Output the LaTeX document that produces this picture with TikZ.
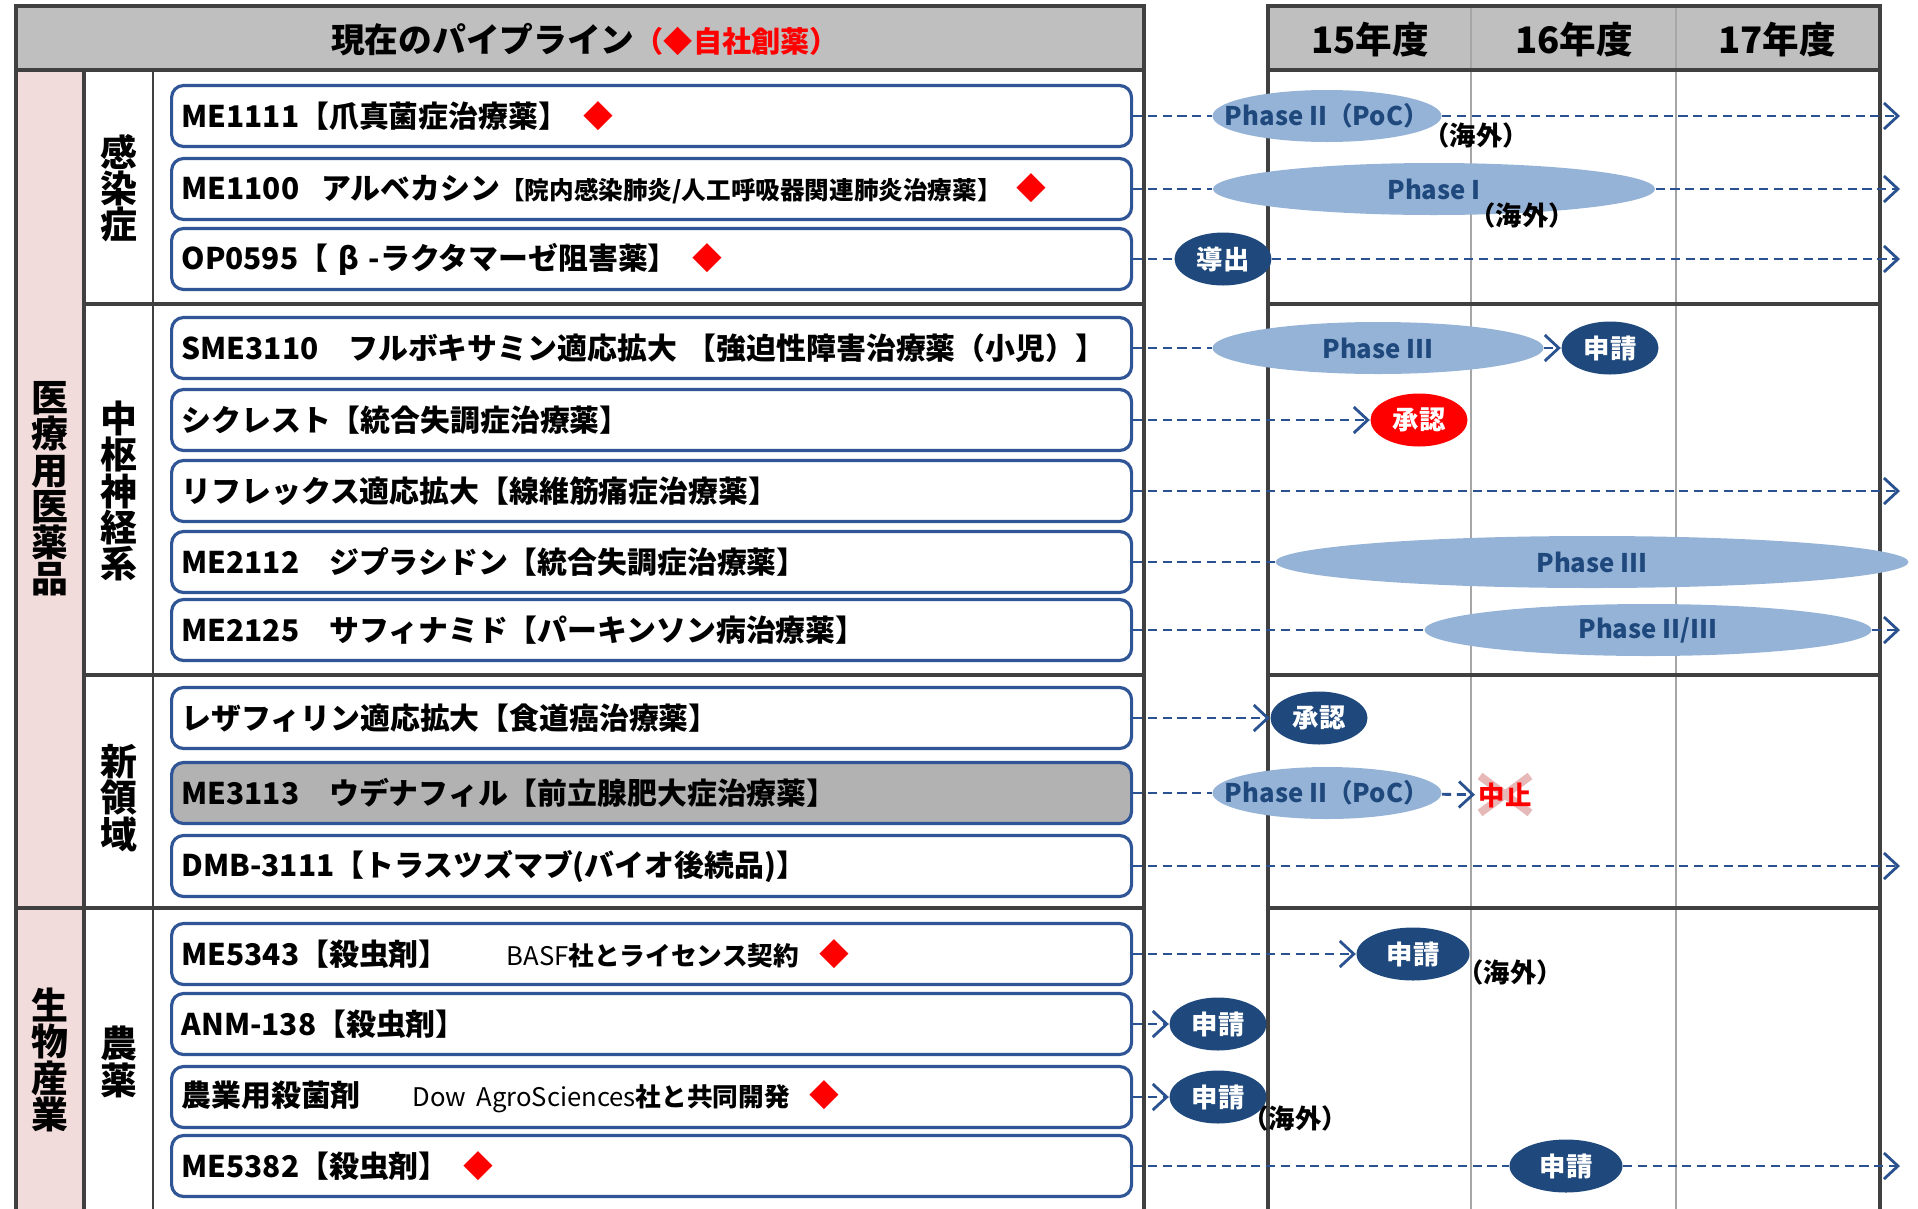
\documentclass[tikz,border=0pt]{standalone}
\usepackage{fontspec}
\setmainfont{Noto Sans CJK JP}
\usepackage{tikz}
\usetikzlibrary{shapes,arrows,arrows.meta}

\definecolor{hdrgray}{HTML}{BFBFBF}
\definecolor{pinkbg}{HTML}{F2DCDB}
\definecolor{framegray}{HTML}{404040}
\definecolor{colgray}{HTML}{A6A6A6}
\definecolor{boxblue}{HTML}{2F5597}
\definecolor{boxgray}{HTML}{B2B2B2}
\definecolor{dashblue}{HTML}{2A5190}
\definecolor{phaseblue}{HTML}{95B3D7}
\definecolor{navy}{HTML}{1F497D}
\definecolor{crosspink}{HTML}{E6B9B8}

\begin{document}
\begin{tikzpicture}[x=0.1mm,y=-0.1mm,>={Straight Barb[length=1.4mm,width=2.6mm]}]
	\tikzstyle{every node}=[font=\fontsize{8.5}{10}\selectfont\bfseries]
	\tikzstyle{frame}=[draw=framegray, line width=1.1pt]
	\tikzstyle{colline}=[draw=colgray, line width=0.6pt]
	\tikzstyle{itembox}=[draw=boxblue, line width=0.9pt, rounded corners=1.2mm, fill=white, anchor=west, minimum height=6.1mm, text width=94mm, inner xsep=1mm, align=left]
	\tikzstyle{grouplbl}=[font=\fontsize{10.5}{10.3}\selectfont\bfseries, align=center, inner sep=0pt]
	\tikzstyle{yearlbl}=[font=\fontsize{10.4}{12}\selectfont\bfseries]
	\tikzstyle{phase}=[ellipse, fill=phaseblue, inner sep=0pt, minimum height=5.2mm]
	\tikzstyle{phasetxt}=[text=navy, font=\fontsize{7.3}{8}\selectfont\bfseries]
	\tikzstyle{navyoval}=[ellipse, fill=navy, text=white, inner sep=0pt, minimum width=9.7mm, minimum height=5.3mm, font=\fontsize{7.5}{8}\selectfont\bfseries]
	\tikzstyle{redoval}=[navyoval, fill=red]
	\tikzstyle{overseas}=[font=\fontsize{7.5}{8}\selectfont\bfseries, inner sep=0pt]
	\tikzstyle{dasharr}=[draw=dashblue, line width=0.8pt, dash pattern=on 2.6pt off 1.6pt]
	
	\useasboundingbox (0,0) rectangle (1918,1208);
	
	% table backgrounds
	\fill[pinkbg] (16,70) rectangle (84,1215);
	\fill[hdrgray] (16,6) rectangle (1144,70);
	\fill[hdrgray] (1268,6) rectangle (1880,70);
	
	% left table
	\draw[frame] (16,1215) -- (16,6) -- (1144,6) -- (1144,1215);
	\draw[frame] (16,70) -- (1144,70);
	\draw[frame] (84,70) -- (84,1215);
	\draw[draw=framegray, line width=0.6pt] (153,70) -- (153,1215);
	\draw[frame] (84,304) -- (1144,304) (84,675) -- (1144,675) (16,908) -- (1144,908);
	
	% right table
	\draw[colline] (1471,6) -- (1471,1215) (1676,6) -- (1676,1215);
	\draw[frame] (1268,1215) -- (1268,6) -- (1880,6) -- (1880,1215);
	\foreach \y in {70,304,675,908}
		\draw[frame] (1268,\y) -- (1880,\y);
	
	% headers
	\node (title) at (585,40) {\fontsize{9.6}{11}\selectfont 現在のパイプライン\textcolor{red}{\fontsize{8.3}{9}\selectfont（◆自社創薬）}};
	\node[yearlbl] (y15) at (1370,40) {15年度};
	\node[yearlbl] (y16) at (1574,40) {16年度};
	\node[yearlbl] (y17) at (1777,40) {17年度};
	
	% groups
	\node[grouplbl] (med) at (50,489) {医\\療\\用\\医\\薬\\品};
	\node[grouplbl] (bio) at (50,1060) {生\\物\\産\\業};
	\node[grouplbl] (inf) at (119,188) {感\\染\\症};
	\node[grouplbl] (cns) at (119,491) {中\\枢\\神\\経\\系};
	\node[grouplbl] (new) at (119,798) {新\\領\\域};
	\node[grouplbl] (agr) at (119,1062) {農\\薬};
	
	% pipeline items
	\node[itembox] (i1) at (170,116) {ME1111【爪真菌症治療薬】\hspace{1.5mm}\textcolor{red}{◆}};
	\node[itembox] (i2) at (170,189) {ME1100\hspace{1.2mm} アルベカシン{\fontsize{7}{8}\selectfont【院内感染肺炎/人工呼吸器関連肺炎治療薬】}\hspace{1.5mm}\textcolor{red}{◆}};
	\node[itembox] (i3) at (170,259) {OP0595【 β -ラクタマーゼ阻害薬】\hspace{1.5mm}\textcolor{red}{◆}};
	\node[itembox] (i4) at (170,348) {SME3110　フルボキサミン適応拡大 【強迫性障害治療薬（小児）】};
	\node[itembox] (i5) at (170,420) {シクレスト【統合失調症治療薬】};
	\node[itembox] (i6) at (170,491) {リフレックス適応拡大【線維筋痛症治療薬】};
	\node[itembox] (i7) at (170,562) {ME2112　ジプラシドン【統合失調症治療薬】};
	\node[itembox] (i8) at (170,630) {ME2125　サフィナミド【パーキンソン病治療薬】};
	\node[itembox] (i9) at (170,718) {レザフィリン適応拡大【食道癌治療薬】};
	\node[itembox, fill=boxgray] (i10) at (170,793) {ME3113　ウデナフィル【前立腺肥大症治療薬】};
	\node[itembox] (i11) at (170,866) {DMB-3111【トラスツズマブ(バイオ後続品)】};
	\node[itembox] (i12) at (170,954) {ME5343【殺虫剤】\hspace{5.8mm}{\fontsize{7.3}{8}\selectfont{\mdseries BASF}社とライセンス契約}\hspace{2mm}\textcolor{red}{◆}};
	\node[itembox] (i13) at (170,1024) {ANM-138【殺虫剤】};
	\node[itembox] (i14) at (170,1097) {農業用殺菌剤\hspace{5.2mm}{\fontsize{7.3}{8}\selectfont{\mdseries Dow AgroSciences}社と共同開発}\hspace{2mm}\textcolor{red}{◆}};
	\node[itembox] (i15) at (170,1166) {ME5382【殺虫剤】\hspace{1.5mm}\textcolor{red}{◆}};
	
	% stages
	\node[phase, minimum width=22.9mm, label={[phasetxt]center:Phase II（PoC）}] (p1) at (1327,116) {};
	\node[phase, minimum width=44.2mm, label={[phasetxt]center:Phase I}] (p2) at (1434,189) {};
	\node[navyoval] (d3) at (1223,259) {導出};
	\node[phase, minimum width=33.1mm, label={[phasetxt]center:Phase III}] (p4) at (1378,348) {};
	\node[navyoval] (a4) at (1610,348) {申請};
	\node[redoval] (r5) at (1419,420) {承認};
	\node[phase, minimum width=63.3mm, label={[phasetxt]center:Phase III}] (p7) at (1592,562) {};
	\node[phase, minimum width=44.7mm, label={[phasetxt]center:Phase II/III}] (p8) at (1648,630) {};
	\node[navyoval] (s9) at (1319,718) {承認};
	\node[phase, minimum width=22.9mm, label={[phasetxt]center:Phase II（PoC）}] (p10) at (1327,793) {};
	\draw[crosspink, line width=0.8mm] (1480,776) -- (1530,813) (1480,813) -- (1530,776);
	\node[text=red, inner sep=0.3mm, font=\fontsize{7.5}{8}\selectfont\bfseries] (x10) at (1505,795) {中止};
	\node[navyoval, minimum width=11.3mm] (a12) at (1413,954) {申請};
	\node[navyoval] (a13) at (1218,1024) {申請};
	\node[navyoval] (a14) at (1218,1097) {申請};
	\node[navyoval, minimum width=11.3mm] (a15) at (1566,1166) {申請};
	
	%\node at (1900,40) {};
	\node[overseas] (o1) at (1476,135) {（海外）};
	\node[overseas] (o2) at (1522,215) {（海外）};
	\node[overseas] (o12) at (1510,972) {（海外）};
	\node[overseas] (o14) at (1295,1118) {（海外）};
	
	% arrow ends
	\coordinate (e1) at (1900,116);
	\coordinate (e2) at (1900,189);
	\coordinate (e3) at (1900,259);
	\coordinate (e6) at (1900,491);
	\coordinate (e8) at (1900,630);
	\coordinate (e11) at (1900,866);
	\coordinate (e15) at (1900,1166);
	
	\draw[dasharr] (i1) -- (p1);
	\draw[dasharr,->] (p1) -- (e1);
	\draw[dasharr] (i2) -- (p2);
	\draw[dasharr,->] (p2) -- (e2);
	\draw[dasharr] (i3) -- (d3);
	\draw[dasharr,->] (d3) -- (e3);
	\draw[dasharr] (i4) -- (p4);
	\draw[dasharr,->] (p4) -- (a4);
	\draw[dasharr,->] (i5) -- (r5);
	\draw[dasharr,->] (i6) -- (e6);
	\draw[dasharr] (i7) -- (p7);
	\draw[dasharr] (i8) -- (p8);
	\draw[dasharr,->] (p8) -- (e8);
	\draw[dasharr,->] (i9) -- (s9);
	\draw[dasharr] (i10) -- (p10);
	\draw[dasharr,->] (p10) -- (x10);
	\draw[dasharr,->] (i11) -- (e11);
	\draw[dasharr,->] (i12) -- (a12);
	\draw[dasharr,->] (i13) -- (a13);
	\draw[dasharr,->] (i14) -- (a14);
	\draw[dasharr] (i15) -- (a15);
	\draw[dasharr,->] (a15) -- (e15);
	
\end{tikzpicture}
\end{document}
